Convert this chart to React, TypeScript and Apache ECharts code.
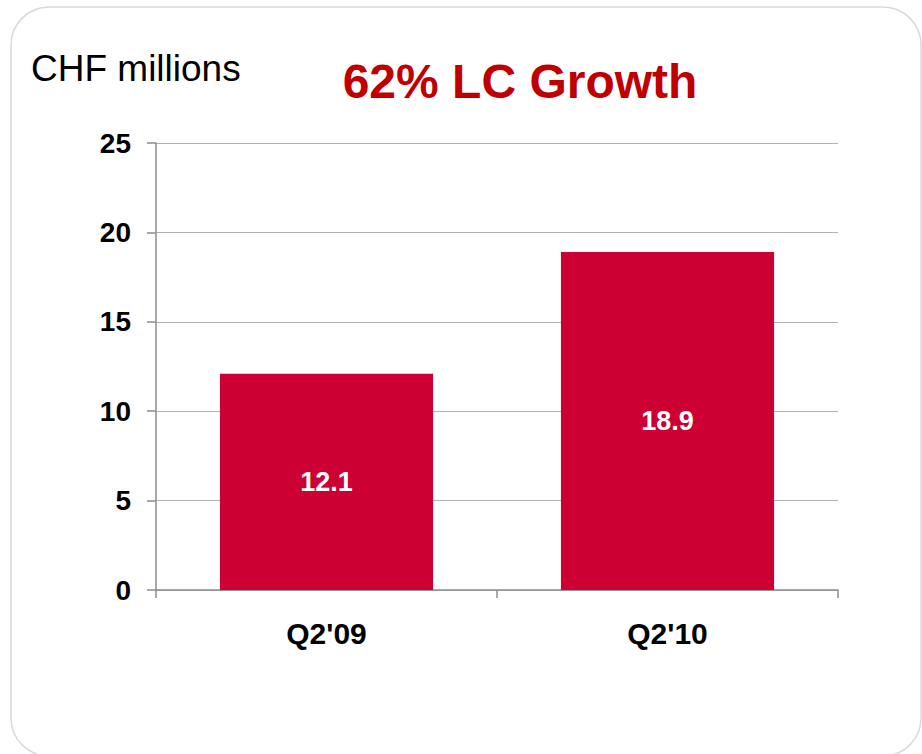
import React, { useEffect, useRef } from "react";
import * as echarts from "echarts";

const categories = ["Q2'09", "Q2'10"];
const values = [12.1, 18.9];
const yTicks = { min: 0, max: 25, interval: 5 };
const titleText = "62% LC Growth";
const unitText = "CHF millions";

export default function App() {
  const ref = useRef<HTMLDivElement>(null);
  useEffect(() => {
    document.body.style.margin = "0";
    const chart = echarts.init(ref.current!, undefined, { renderer: "svg" });
    const font = "'Liberation Sans', Arial, sans-serif";
    chart.setOption({
      animation: false,
      backgroundColor: "#ffffff",
      textStyle: { fontFamily: font },
      graphic: [
        {
          type: "rect",
          shape: { x: 11, y: 7, width: 910, height: 749, r: 38 },
          style: { fill: "none", stroke: "#d9d9d9", lineWidth: 1.5 },
          silent: true,
        },
        {
          type: "text",
          left: 31,
          top: 50,
          style: { text: unitText, fontSize: 37, fontFamily: font, fill: "#000" },
        },
      ],
      title: {
        text: titleText,
        left: 515,
        top: 52,
        textAlign: "center",
        textStyle: { color: "#c00000", fontSize: 48, fontWeight: "bold", fontFamily: font },
      },
      grid: { left: 156, right: 84, top: 143, bottom: 164, containLabel: false },
      xAxis: {
        type: "category",
        data: categories,
        axisLine: { lineStyle: { color: "#8c8c8c", width: 1.5 } },
        axisTick: { show: true, length: 8, lineStyle: { color: "#8c8c8c", width: 1.5 } },
        axisLabel: { fontSize: 30, fontWeight: "bold", color: "#000", margin: 28, fontFamily: font },
      },
      yAxis: {
        type: "value",
        min: yTicks.min,
        max: yTicks.max,
        interval: yTicks.interval,
        axisLine: { show: true, lineStyle: { color: "#8c8c8c", width: 1.5 } },
        axisTick: { show: true, length: 9, lineStyle: { color: "#8c8c8c", width: 1.5 } },
        splitLine: { show: true, lineStyle: { color: "#b3b3b3", width: 1.2 } },
        axisLabel: { fontSize: 28, fontWeight: "bold", color: "#000", margin: 25, fontFamily: font },
      },
      series: [
        {
          type: "bar",
          data: values,
          barWidth: "62.5%",
          itemStyle: { color: "#cc0033" },
          label: {
            show: true,
            position: "inside",
            color: "#fff",
            fontSize: 27,
            fontWeight: "bold",
            fontFamily: font,
            formatter: (p: any) => p.value.toFixed(1),
          },
        },
      ],
    });
    return () => chart.dispose();
  }, []);
  return (
    <div
      ref={ref}
      style={{ position: "absolute", left: 0, top: 0, width: 922, height: 754 }}
    />
  );
}
